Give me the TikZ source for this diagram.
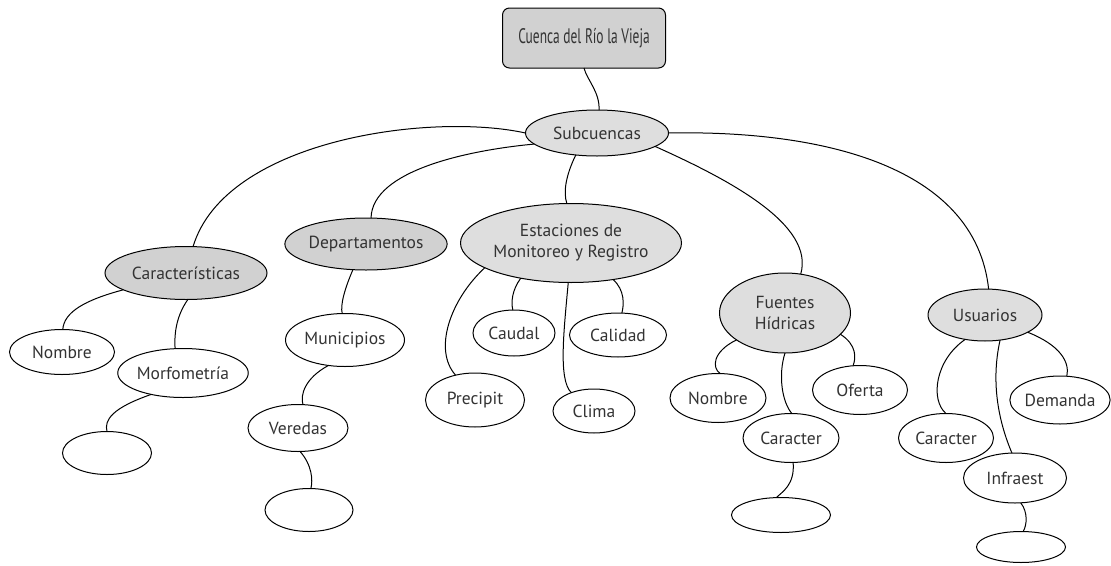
\documentclass[tikz,border=0pt]{standalone}
\usepackage{fontspec}
\setmainfont{PT Sans}
\usetikzlibrary{shapes.geometric}
\definecolor{darkfill}{gray}{0.82}
\definecolor{lightfill}{gray}{0.87}
\tikzset{
  every node/.style={font=\fontsize{17.5}{21}\selectfont, text=black!80, inner sep=0pt, outer sep=0pt},
  oval/.style={ellipse, draw, line width=1pt, fill=white},
  goval/.style={oval, fill=lightfill},
  dgoval/.style={oval, fill=darkfill},
  topbox/.style={draw, line width=1pt, rounded corners=7pt, fill=darkfill, minimum width=163pt, minimum height=60pt},
  link/.style={line width=1pt},
}
\begin{document}
\begin{tikzpicture}[x=1pt,y=-1pt]
\useasboundingbox (0,0) rectangle (1111,565);
% nodes
\node[topbox] (box) at (584,38) {\scalebox{0.64}[1]{\fontsize{21}{24}\selectfont Cuenca del Río la Vieja}};
\node[goval, minimum width=143pt, minimum height=46pt] (sub) at (597,133) {Subcuencas};
\node[dgoval, minimum width=162pt, minimum height=53pt] (car) at (186,273) {Características};
\node[dgoval, minimum width=162pt, minimum height=52pt] (dep) at (366,244) {Departamentos};
\node[goval, minimum width=221pt, minimum height=79pt, align=center] (est) at (571,243) {Estaciones de\\Monitoreo y Registro};
\node[goval, minimum width=131pt, minimum height=80pt, align=center] (fue) at (785,313) {Fuentes\\Hídricas};
\node[goval, minimum width=114pt, minimum height=52pt] (usu) at (985,315) {Usuarios};
\node[oval, minimum width=105pt, minimum height=45pt] (nom1) at (62,352) {Nombre};
\node[oval, minimum width=120pt, minimum height=49pt] (mor) at (183,373) {Morfometría};
\node[oval, minimum width=89pt, minimum height=43pt] (e1) at (107,453) {};
\node[oval, minimum width=119pt, minimum height=53pt] (mun) at (345,340) {Municipios};
\node[oval, minimum width=100pt, minimum height=47pt] (ver) at (298,428) {Veredas};
\node[oval, minimum width=88pt, minimum height=43pt] (e2) at (309,510) {};
\node[oval, minimum width=82pt, minimum height=46pt] (cau) at (514,333) {Caudal};
\node[oval, minimum width=97pt, minimum height=44pt] (cal) at (618,335) {Calidad};
\node[oval, minimum width=99pt, minimum height=54pt] (pre) at (475,400) {Precipit};
\node[oval, minimum width=82pt, minimum height=44pt] (cli) at (594,411) {Clima};
\node[oval, minimum width=96pt, minimum height=49pt] (nom2) at (718,398) {Nombre};
\node[oval, minimum width=95pt, minimum height=49pt] (ofe) at (860,390) {Oferta};
\node[oval, minimum width=96pt, minimum height=49pt] (ca1) at (791,438) {Caracter};
\node[oval, minimum width=99pt, minimum height=35pt] (e3) at (781,515) {};
\node[oval, minimum width=95pt, minimum height=49pt] (ca2) at (946,438) {Caracter};
\node[oval, minimum width=98pt, minimum height=48pt] (dem) at (1060,400) {Demanda};
\node[oval, minimum width=103pt, minimum height=50pt] (inf) at (1015,478) {Infraest};
\node[oval, minimum width=89pt, minimum height=31pt] (e4) at (1021,547) {};
% connectors
\draw[link] (box.south) .. controls (587,80) and (600,92) .. (sub.85);
\draw[link] (sub.180) .. controls (430,112) and (225,140) .. (car.75);
\draw[link] (sub.190) .. controls (470,150) and (372,170) .. (dep.79);
\draw[link] (sub.226) .. controls (566,175) and (563,192) .. (est.96);
\draw[link] (sub.347) .. controls (730,180) and (815,225) .. (fue.68);
\draw[link] (sub.0) .. controls (820,130) and (975,165) .. (usu.82);
\draw[link] (car.195) .. controls (85,300) and (64,312) .. (nom1.88);
\draw[link] (car.274) .. controls (177,315) and (174,332) .. (mor.108);
\draw[link] (mor.214) .. controls (112,408) and (104,420) .. (e1.90);
\draw[link] (dep.243) .. controls (345,288) and (340,305) .. (mun.96);
\draw[link] (mun.237) .. controls (305,378) and (300,395) .. (ver.78);
\draw[link] (ver.275) .. controls (312,465) and (313,480) .. (e2.85);
\draw[link] (est.196) .. controls (450,300) and (433,350) .. (pre.128);
\draw[link] (est.215) .. controls (512,290) and (511,302) .. (cau.93);
\draw[link] (est.266) .. controls (564,330) and (558,380) .. (cli.141);
\draw[link] (est.319) .. controls (625,290) and (624,305) .. (cal.80);
\draw[link] (fue.209) .. controls (712,352) and (712,368) .. (nom2.85);
\draw[link] (fue.270) .. controls (778,375) and (782,402) .. (ca1.88);
\draw[link] (fue.339) .. controls (857,345) and (856,358) .. (ofe.106);
\draw[link] (ca1.275) .. controls (795,485) and (782,492) .. (e3.105);
\draw[link] (usu.231) .. controls (935,360) and (930,400) .. (ca2.90);
\draw[link] (usu.301) .. controls (990,385) and (1000,425) .. (inf.97);
\draw[link] (usu.338) .. controls (1060,345) and (1070,362) .. (dem.74);
\draw[link] (inf.283) .. controls (1028,512) and (1027,525) .. (e4.82);
\end{tikzpicture}
\end{document}
